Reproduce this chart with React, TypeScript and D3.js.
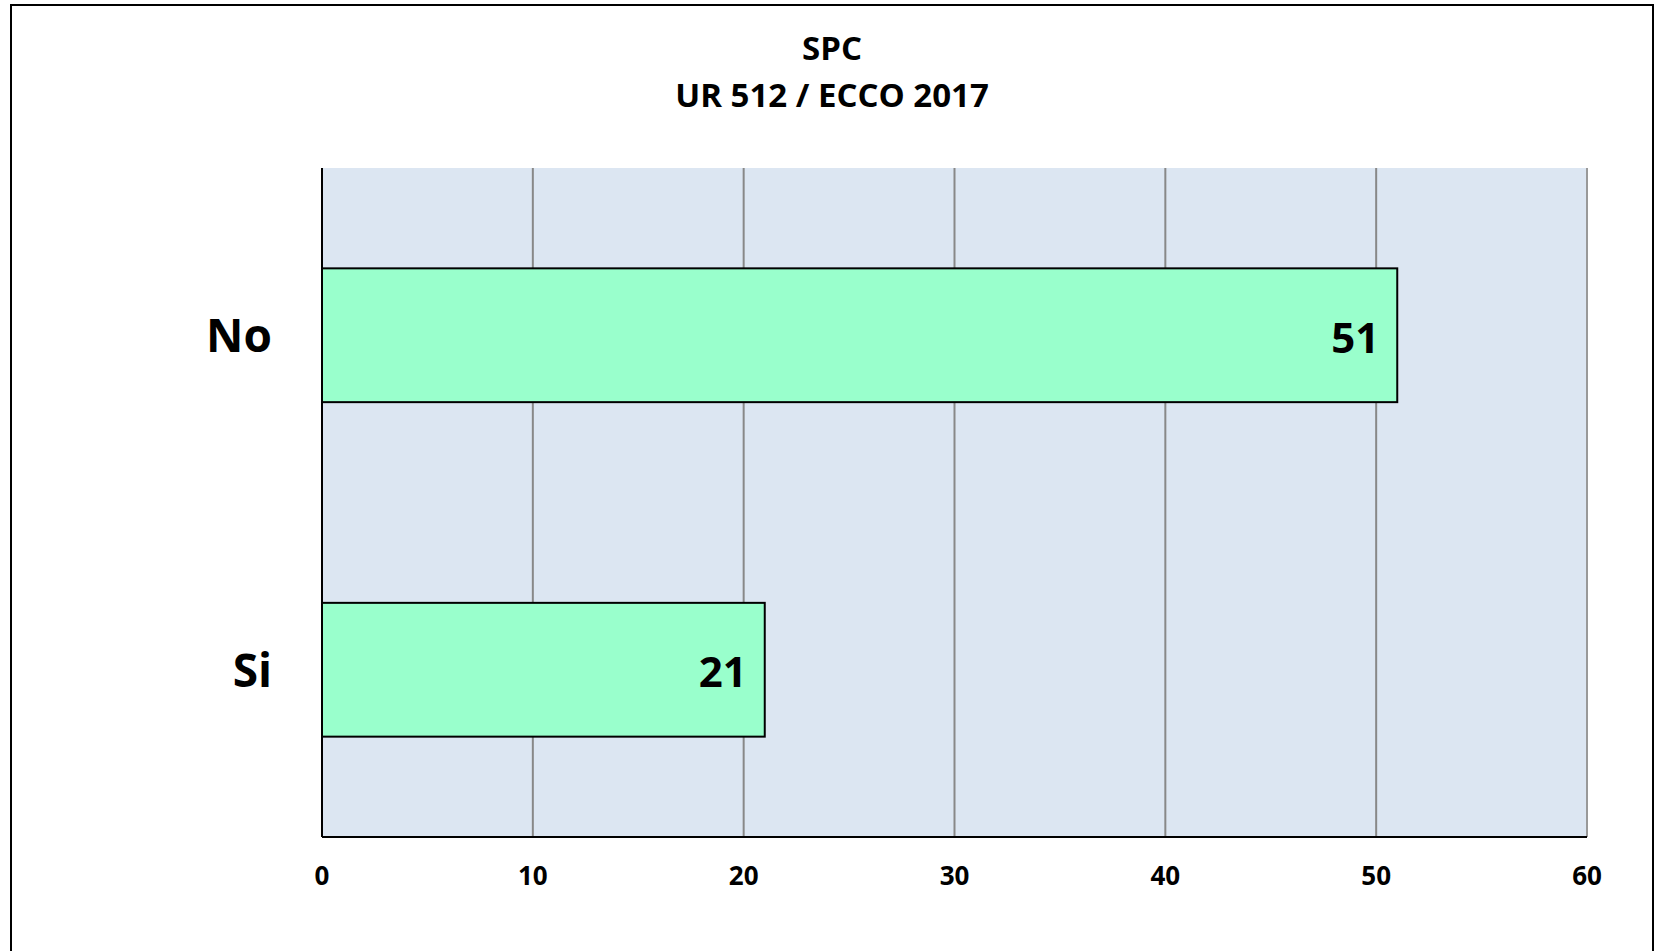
import React from 'react'
import * as d3 from 'd3'

// chart data
const categories = ['No', 'Si']
const values = [51, 21]
const xTicks = [0, 10, 20, 30, 40, 50, 60]
const titleLines = ['SPC', 'UR 512 / ECCO 2017']

const W = 1655
const H = 951
const font = "'Open Sans', 'Liberation Sans', sans-serif"

const App = () => {
  const plot = { left: 322, top: 168, right: 1587, bottom: 837 }

  const x = d3.scaleLinear().domain([0, 60]).range([plot.left, plot.right])
  const y = d3.scaleBand()
    .domain(categories)
    .range([plot.top, plot.bottom])
    .paddingInner(0.6)
    .paddingOuter(0.3)

  return (
    <svg width={W} height={H} style={{ position: 'absolute', left: 0, top: 0 }} fontFamily={font}>
      <rect x={0} y={0} width={W} height={H} fill="#fff" />
      {/* outer frame */}
      <rect x={11} y={5} width={1642} height={H + 20} fill="none" stroke="#000" strokeWidth={2} />

      {/* title */}
      {titleLines.map((t, i) => (
        <text key={i} x={832} y={47 + i * 47} textAnchor="middle" dominantBaseline="central"
          fontSize={33} fontWeight="bold">{t}</text>
      ))}

      {/* plot background */}
      <rect x={plot.left} y={plot.top} width={plot.right - plot.left} height={plot.bottom - plot.top} fill="#dce6f2" />

      {/* grid lines */}
      {xTicks.filter(d => d > 0).map(d => (
        <line key={d} x1={x(d)} x2={x(d)} y1={plot.top} y2={plot.bottom}
          stroke={d === 60 ? '#999' : '#888'} strokeWidth={2} />
      ))}

      {/* bars */}
      {categories.map((c, i) => (
        <g key={c}>
          <rect x={x(0)} y={y(c)} width={x(values[i]) - x(0)} height={y.bandwidth()}
            fill="#99ffcc" stroke="#000" strokeWidth={2} />
          <text x={x(values[i]) - 18} y={(y(c) as number) + y.bandwidth() / 2 + 1}
            textAnchor="end" dominantBaseline="central" fontSize={42} fontWeight="bold">{values[i]}</text>
          <text x={272} y={(y(c) as number) + y.bandwidth() / 2 - 1}
            textAnchor="end" dominantBaseline="central" fontSize={46} fontWeight="bold">{c}</text>
        </g>
      ))}

      {/* axes */}
      <line x1={x(0)} x2={x(0)} y1={plot.top} y2={plot.bottom} stroke="#000" strokeWidth={2} />
      <line x1={x(0)} x2={x(60)} y1={plot.bottom} y2={plot.bottom} stroke="#000" strokeWidth={2} />
      {xTicks.map(d => (
        <text key={d} x={x(d)} y={875} textAnchor="middle" dominantBaseline="central"
          fontSize={26} fontWeight="bold">{d}</text>
      ))}
    </svg>
  )
}

export default App
